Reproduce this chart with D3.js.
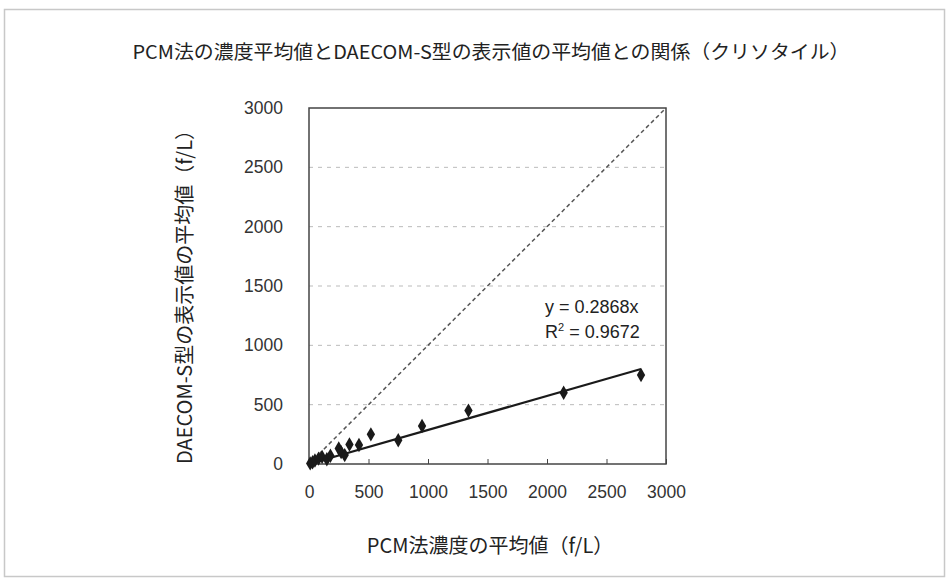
<!DOCTYPE html>
<html><head><meta charset="utf-8">
<script src="https://cdn.jsdelivr.net/npm/d3@7"></script>
<style>body{margin:0;background:#fff}svg{display:block}</style>
</head><body><svg id="c" width="946" height="580"></svg>
<script>
const pcm = [10, 30, 50, 80, 110, 150, 180, 250, 270, 300, 340, 420, 520, 750, 950, 1340, 2140, 2790];
const daecom = [5, 15, 30, 45, 60, 40, 70, 130, 100, 75, 165, 160, 250, 200, 320, 450, 600, 750];
const xTicks = [0, 500, 1000, 1500, 2000, 2500, 3000];
const yTicks = [0, 500, 1000, 1500, 2000, 2500, 3000];
const slope = 0.2868;
const eqLines = ["y = 0.2868x", "R2 = 0.9672"];
const title = "PCM法の濃度平均値とDAECOM-S型の表示値の平均値との関係（クリソタイル）";
const xTitle = "PCM法濃度の平均値（f/L）";
const yTitle = "DAECOM-S型の表示値の平均値（f/L）";

const svg = d3.select("#c");
const L = 309, R = 666, T = 108, B = 464;
const x = d3.scaleLinear().domain([0, 3000]).range([L, R]);
const y = d3.scaleLinear().domain([0, 3000]).range([B, T]);
const jp = "'Noto Sans CJK JP', 'Noto Sans', sans-serif";
const num = "'Liberation Sans', Arial, sans-serif";

svg.append("rect").attr("x", 4.5).attr("y", 9.5).attr("width", 940).attr("height", 567)
  .attr("fill", "none").attr("stroke", "#c8c8c8").attr("stroke-width", 1.5);

svg.append("text").attr("x", 491).attr("y", 59).attr("text-anchor", "middle")
  .attr("textLength", 717).attr("lengthAdjust", "spacingAndGlyphs")
  .style("font-family", jp).style("font-size", "19px").attr("fill", "#222").text(title);

// gridlines
svg.append("g").selectAll("line").data(yTicks.filter(d => d > 0 && d < 3000)).join("line")
  .attr("x1", L).attr("x2", R).attr("y1", d => y(d)).attr("y2", d => y(d))
  .attr("stroke", "#bbb").attr("stroke-width", 1).attr("stroke-dasharray", "4,5");

// axes
const xa = svg.append("g").attr("transform", `translate(0,${B})`)
  .call(d3.axisBottom(x).tickValues(xTicks).tickSize(5).tickPadding(17).tickFormat(d3.format("d")));
const ya = svg.append("g").attr("transform", `translate(${L},0)`)
  .call(d3.axisLeft(y).tickValues(yTicks).tickSize(0).tickPadding(26).tickFormat(d3.format("d")));
[xa, ya].forEach(a => {
  a.select(".domain").remove();
  a.selectAll("text").style("font-family", num).style("font-size", "17.5px").attr("fill", "#333");
  a.selectAll("line").attr("stroke", "#444");
});
xa.selectAll(".tick line").attr("transform", "translate(0,-5)");

// plot frame
svg.append("rect").attr("x", L).attr("y", T).attr("width", R - L).attr("height", B - T)
  .attr("fill", "none").attr("stroke", "#444").attr("stroke-width", 1.5);

// diagonal y=x
svg.append("line").attr("x1", x(0)).attr("y1", y(0)).attr("x2", x(3000)).attr("y2", y(3000))
  .attr("stroke", "#555").attr("stroke-width", 1.5).attr("stroke-dasharray", "4,3");

// trend line
const xmax = d3.max(pcm);
svg.append("line").attr("x1", x(0)).attr("y1", y(0)).attr("x2", x(xmax)).attr("y2", y(slope * xmax))
  .attr("stroke", "#1a1a1a").attr("stroke-width", 2.2);

// points
svg.append("g").selectAll("path").data(pcm.map((v, i) => [v, daecom[i]])).join("path")
  .attr("d", d3.symbol(d3.symbolDiamond, 60))
  .attr("transform", d => `translate(${x(d[0])},${y(d[1])})`)
  .attr("fill", "#1a1a1a");

// equation
const eq = svg.append("g").style("font-family", num).style("font-size", "18px").attr("fill", "#222");
eq.append("text").attr("x", 545).attr("y", 313).text(eqLines[0]);
const t2 = eq.append("text").attr("x", 545).attr("y", 338);
t2.append("tspan").text("R");
t2.append("tspan").attr("dy", -7).style("font-size", "11px").text("2");
t2.append("tspan").attr("dy", 7).text(" = 0.9672");

// axis titles
svg.append("text").attr("x", 490).attr("y", 553).attr("text-anchor", "middle")
  .style("font-family", jp).style("font-size", "20px").attr("fill", "#222").text(xTitle);
svg.append("text").attr("transform", "translate(192,292) rotate(-90)").attr("text-anchor", "middle")
  .style("font-family", jp).style("font-size", "20px").attr("fill", "#222").text(yTitle);
</script></body></html>
